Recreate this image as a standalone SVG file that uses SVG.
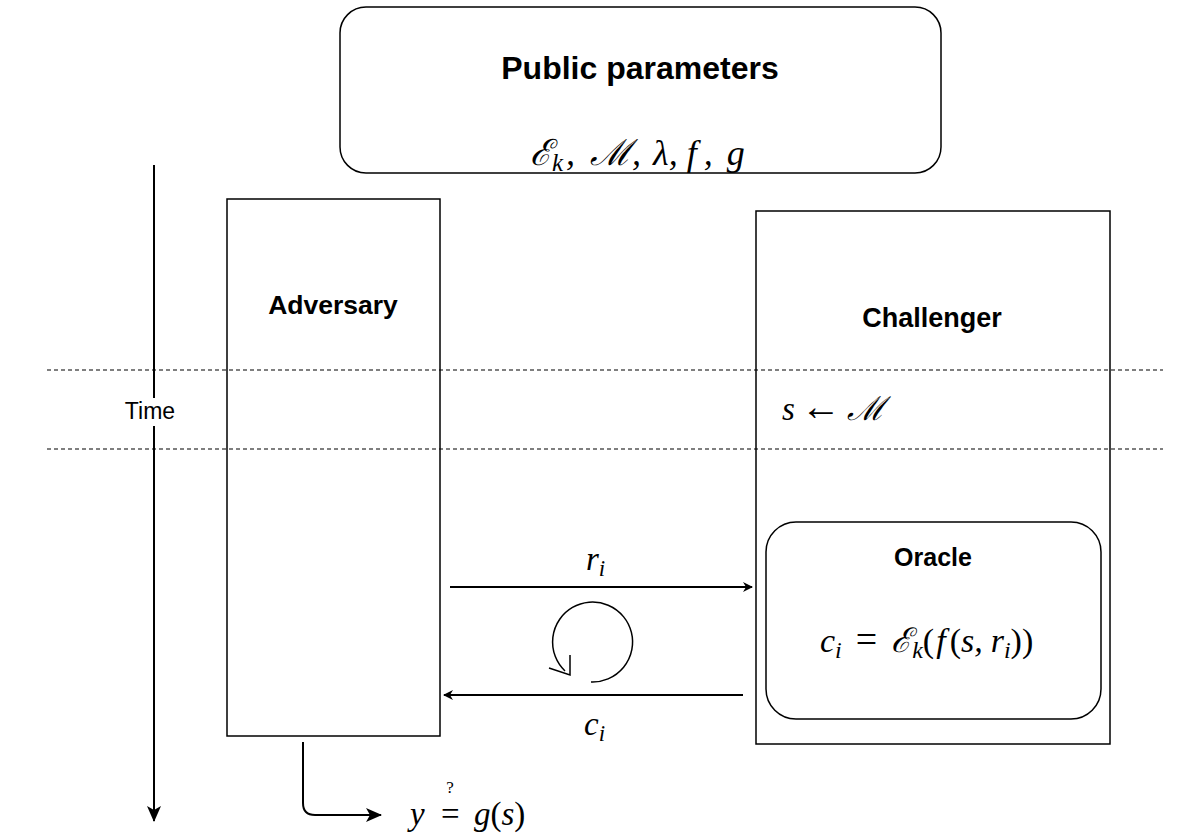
<svg xmlns="http://www.w3.org/2000/svg" width="1194" height="836" viewBox="0 0 1194 836">
<style>
.box{fill:#fff;stroke:#000;stroke-width:1.5}
.frame{fill:none;stroke:#000;stroke-width:1.5}
.lbl{font-family:"Liberation Sans",Arial,sans-serif;font-weight:bold;text-anchor:middle;fill:#000}
.m{font-family:"Liberation Serif","DejaVu Serif",serif;font-style:italic;fill:#000}
.mu{font-family:"Liberation Serif","DejaVu Serif",serif;font-style:normal;fill:#000}
.ln{fill:none;stroke:#000;stroke-width:2}
.dash{fill:none;stroke:#000;stroke-width:1.2;stroke-dasharray:4 3}
</style>
<defs>
<marker id="ah" viewBox="0 0 10 10" refX="9" refY="5" markerWidth="10" markerHeight="10" markerUnits="userSpaceOnUse" orient="auto">
<path d="M0,0 L10,5 L0,10 L3,5 Z" fill="#000"/>
</marker>
<marker id="ahb" viewBox="0 0 16 14" refX="15" refY="7" markerWidth="16" markerHeight="14" markerUnits="userSpaceOnUse" orient="auto">
<path d="M0,0 L16,7 L0,14 L4,7 Z" fill="#000"/>
</marker>
</defs>
<rect width="1194" height="836" fill="#fff"/>

<g id="adversary">
<rect class="frame" x="227" y="199" width="213" height="537"/>
<text class="lbl" x="333" y="314" font-size="26.5">Adversary</text>
</g>

<g id="challenger">
<rect class="frame" x="756" y="211" width="354" height="533"/>
<text class="lbl" x="932" y="327" font-size="27">Challenger</text>
<text class="m" x="782" y="420" font-size="33">s<tspan class="mu" font-size="40" dx="6">←</tspan><tspan dx="6">ℳ</tspan></text>
</g>

<g id="connectors">
<line class="dash" x1="47" y1="370" x2="1163" y2="370"/>
<line class="dash" x1="47" y1="449" x2="1163" y2="449"/>
<line class="ln" x1="154" y1="165" x2="154" y2="821" marker-end="url(#ahb)"/>
<line class="ln" x1="450" y1="587" x2="752" y2="587" marker-end="url(#ah)"/>
<line class="ln" x1="743" y1="695" x2="444" y2="695" marker-end="url(#ah)"/>
<path class="ln" d="M303,742 L303,803 Q303,815 315,815 L381,815" marker-end="url(#ahb)"/>
<path class="ln" d="M591,682 A40,40 0 1 0 565,671" style="stroke-width:1.5"/>
<polyline class="ln" points="570,655 570,675 549,668" style="stroke-width:1.5"/>
</g>

<g id="time">
<rect x="122" y="398" width="55" height="28" fill="#fff"/>
<text x="150" y="419" font-family="Liberation Sans,Arial,sans-serif" font-size="23" text-anchor="middle">Time</text>
</g>

<g id="public-parameters">
<rect class="box" x="340" y="7" width="601" height="166" rx="26"/>
<text class="lbl" x="640" y="79" font-size="32">Public parameters</text>
<text class="m" x="530" y="165" font-size="36">ℰ<tspan font-size="25" dy="6">k</tspan><tspan dy="-6" dx="3">, </tspan><tspan dx="6">ℳ,</tspan><tspan dx="12">λ,</tspan><tspan dx="9">f</tspan><tspan dx="7">,</tspan><tspan dx="14">g</tspan></text>
</g>

<g id="oracle">
<rect class="box" x="766" y="522" width="335" height="197" rx="30"/>
<text class="lbl" x="933" y="566" font-size="25">Oracle</text>
<text class="m" x="820" y="652" font-size="34">c<tspan font-size="24" dy="6">i</tspan><tspan class="mu" font-size="38" dy="-6" dx="14">=</tspan><tspan dx="14">ℰ</tspan><tspan font-size="24" dy="6">k</tspan><tspan class="mu" dy="-6">(</tspan><tspan dx="2">f</tspan><tspan class="mu" dx="4">(</tspan>s,<tspan dx="8">r</tspan><tspan font-size="24" dy="6">i</tspan><tspan class="mu" dy="-6">))</tspan></text>
</g>

<g id="labels">
<text class="m" x="586" y="570" font-size="33">r<tspan font-size="23" dy="6">i</tspan></text>
<text class="m" x="584" y="735" font-size="33">c<tspan font-size="23" dy="6">i</tspan></text>
<text class="m" x="410" y="825" font-size="33">y</text>
<text class="mu" x="441" y="825" font-size="33">=</text>
<text class="mu" x="450" y="793" font-size="17" text-anchor="middle">?</text>
<text class="m" x="474" y="825" font-size="33">g<tspan class="mu">(</tspan>s<tspan class="mu">)</tspan></text>
</g>
</svg>
